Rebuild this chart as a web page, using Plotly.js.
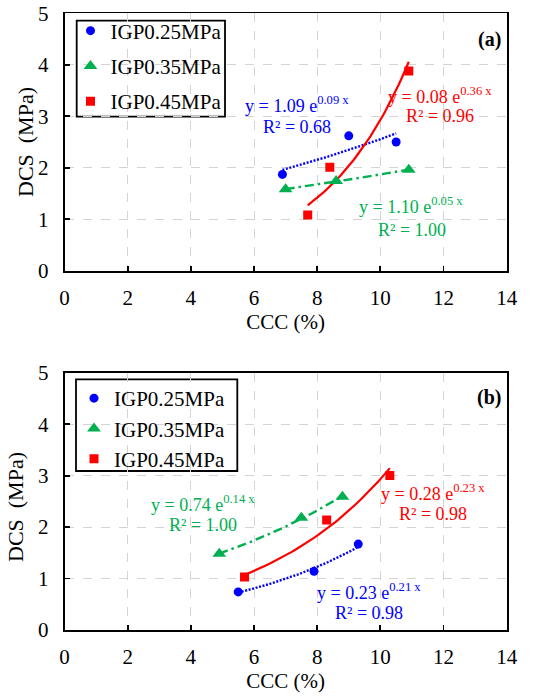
<!DOCTYPE html>
<html>
<head>
<meta charset="utf-8">
<script src="https://cdn.plot.ly/plotly-3.0.1.min.js"></script>
<style>html,body{margin:0;padding:0;background:#fff}#chart{width:550px;height:700px}</style>
</head>
<body>
<div id="chart"></div>
<script>
// ---- Data ----
const seriesNames = ["IGP0.25MPa", "IGP0.35MPa", "IGP0.45MPa"];

// Panel (a)
const xA_025 = [6.9, 9.0, 10.5];
const yA_025 = [1.87, 2.62, 2.50];
const xA_035 = [7.0, 8.6, 10.9];
const yA_035 = [1.58, 1.74, 1.96];
const xA_045 = [7.7, 8.4, 10.9];
const yA_045 = [1.08, 2.01, 3.88];

// Panel (b)
const xB_025 = [5.5, 7.9, 9.3];
const yB_025 = [0.74, 1.14, 1.67];
const xB_035 = [4.9, 7.5, 8.8];
const yB_035 = [1.48, 2.18, 2.59];
const xB_045 = [5.7, 8.3, 10.3];
const yB_045 = [1.03, 2.14, 3.00];

// Trendline labels (as printed)
const eqA = ["y = 1.09 e<sup>0.09 x</sup>", "y = 1.10 e<sup>0.05 x</sup>", "y = 0.08 e<sup>0.36 x</sup>"];
const r2A = ["R² = 0.68", "R² = 1.00", "R² = 0.96"];
const eqB = ["y = 0.23 e<sup>0.21 x</sup>", "y = 0.74 e<sup>0.14 x</sup>", "y = 0.28 e<sup>0.23 x</sup>"];
const r2B = ["R² = 0.98", "R² = 1.00", "R² = 0.98"];

const xTicks = [0, 2, 4, 6, 8, 10, 12, 14];
const yTicks = [0, 1, 2, 3, 4, 5];
const xTitle = "CCC (%)";
const yTitle = "DCS\u00a0 (MPa)";

// ---- Styles ----
const colors = ["#0000FF", "#00B050", "#FF0000"];
const symbols = ["circle", "triangle-up", "square"];
const sizes = [9, 12, 9];
const dashes = ["2px,1.6px", "9px,4px,2.5px,4px", "solid"];
const widths = [2.4, 2.4, 2.2];
const FONT = "Liberation Serif";

// Exponential least-squares fit (as a spreadsheet trendline does) from the data points
function expFitCurve(xs, ys, n) {
  const ly = ys.map(Math.log);
  const m = xs.length;
  const mx = xs.reduce((a, b) => a + b, 0) / m;
  const my = ly.reduce((a, b) => a + b, 0) / m;
  let sxy = 0, sxx = 0;
  for (let i = 0; i < m; i++) { sxy += (xs[i] - mx) * (ly[i] - my); sxx += (xs[i] - mx) ** 2; }
  const b = sxy / sxx, a = Math.exp(my - b * mx);
  const x0 = Math.min(...xs), x1 = Math.max(...xs);
  const cx = [], cy = [];
  for (let i = 0; i <= n; i++) { const x = x0 + (x1 - x0) * i / n; cx.push(x); cy.push(a * Math.exp(b * x)); }
  return { x: cx, y: cy };
}

function panelTraces(xsList, ysList, xa, ya, legendId) {
  const t = [];
  xsList.forEach((xs, i) => {
    const f = expFitCurve(xs, ysList[i], 40);
    t.push({ x: f.x, y: f.y, xaxis: xa, yaxis: ya, mode: "lines", type: "scatter",
      line: { color: colors[i], width: widths[i], dash: dashes[i] },
      showlegend: false, hoverinfo: "skip" });
  });
  xsList.forEach((xs, i) => {
    t.push({ x: xs, y: ysList[i], xaxis: xa, yaxis: ya, mode: "markers", type: "scatter",
      name: seriesNames[i], legend: legendId, legendgroup: legendId + i,
      marker: { color: colors[i], symbol: symbols[i], size: sizes[i] } });
  });
  return t;
}

const data = [].concat(
  panelTraces([xA_025, xA_035, xA_045], [yA_025, yA_035, yA_045], "x", "y", "legend"),
  panelTraces([xB_025, xB_035, xB_045], [yB_025, yB_035, yB_045], "x2", "y2", "legend2")
);

const W = 550, H = 700;
const px = v => v / W, py = v => 1 - v / H;
const xDom = [px(64.5), px(506.7)];
const yDomA = [py(270.7), py(13.3)];
const yDomB = [py(630), py(372.7)];

function xAxis(anchor, dom) {
  return { domain: dom, anchor: anchor, range: [0, 14], tickvals: xTicks, ticktext: xTicks.map(String),
    showline: true, mirror: true, linecolor: "#000", linewidth: 1.8,
    ticks: "inside", ticklen: 5, tickwidth: 1.8, tickcolor: "#000",
    showgrid: true, gridcolor: "#d4d4d4", griddash: "dash", gridwidth: 1, zeroline: false,
    tickfont: { family: FONT, size: 21, color: "#000" }, ticklabelstandoff: 7,
    title: { text: xTitle, font: { family: FONT, size: 21, color: "#000" }, standoff: 4 },
    automargin: false, fixedrange: true };
}
function yAxis(anchor, dom) {
  return { domain: dom, anchor: anchor, range: [0, 5], tickvals: yTicks, ticktext: yTicks.map(String),
    showline: true, mirror: true, linecolor: "#000", linewidth: 1.8,
    ticks: "inside", ticklen: 5, tickwidth: 1.8, tickcolor: "#000",
    showgrid: true, gridcolor: "#d4d4d4", griddash: "dash", gridwidth: 1, zeroline: false,
    tickfont: { family: FONT, size: 21, color: "#000" }, ticklabelstandoff: 10,
    automargin: false, fixedrange: true };
}

function ann(x, y, text, color, xr, yr, bold) {
  return { x: x, y: y, xref: xr, yref: yr, text: bold ? "<b>" + text + "</b>" : text, showarrow: false,
    xanchor: "center", yanchor: "middle",
    font: { family: FONT, size: bold ? 20 : 18, color: color } };
}

const annotations = [
  ann(7.35, 3.22, eqA[0], colors[0], "x", "y"),
  ann(7.35, 2.80, r2A[0], colors[0], "x", "y"),
  ann(10.97, 1.26, eqA[1], colors[1], "x", "y"),
  ann(10.99, 0.79, r2A[1], colors[1], "x", "y"),
  ann(11.89, 3.41, eqA[2], colors[2], "x", "y"),
  ann(11.89, 3.00, r2A[2], colors[2], "x", "y"),
  ann(13.44, 4.50, "(a)", "#000", "x", "y", true),
  ann(9.64, 0.74, eqB[0], colors[0], "x2", "y2"),
  ann(9.64, 0.33, r2B[0], colors[0], "x2", "y2"),
  ann(4.38, 2.45, eqB[1], colors[1], "x2", "y2"),
  ann(4.38, 2.04, r2B[1], colors[1], "x2", "y2"),
  ann(11.66, 2.67, eqB[2], colors[2], "x2", "y2"),
  ann(11.66, 2.25, r2B[2], colors[2], "x2", "y2"),
  ann(13.44, 4.51, "(b)", "#000", "x2", "y2", true),
  // y-axis titles
  { x: px(25), y: py(142), xref: "paper", yref: "paper", text: yTitle, textangle: -90, showarrow: false,
    xanchor: "center", yanchor: "middle", font: { family: FONT, size: 22, color: "#000" } },
  { x: px(15), y: py(507), xref: "paper", yref: "paper", text: yTitle, textangle: -90, showarrow: false,
    xanchor: "center", yanchor: "middle", font: { family: FONT, size: 22, color: "#000" } }
];

// Legend frames
const shapes = [
  { type: "rect", xref: "paper", yref: "paper", x0: px(76.7), x1: px(225), y0: py(116.7), y1: py(20.7),
    line: { color: "#000", width: 1.8 }, fillcolor: "#fff", layer: "between" },
  { type: "rect", xref: "paper", yref: "paper", x0: px(76), x1: px(237.3), y0: py(471), y1: py(379.3),
    line: { color: "#000", width: 1.8 }, fillcolor: "#fff", layer: "between" }
];

function legendBox(x, y, gap) {
  return { x: x, y: y, xref: "paper", yref: "paper", xanchor: "left", yanchor: "top",
    bgcolor: "rgba(0,0,0,0)", borderwidth: 0, tracegroupgap: gap,
    font: { family: FONT, size: 21, color: "#000" }, itemclick: false, itemdoubleclick: false };
}

const layout = {
  width: W, height: H, margin: { l: 0, r: 0, t: 0, b: 0 },
  paper_bgcolor: "#fff", plot_bgcolor: "#fff",
  font: { family: FONT, color: "#000" },
  xaxis: xAxis("y", xDom), yaxis: yAxis("x", yDomA),
  xaxis2: xAxis("y2", xDom), yaxis2: yAxis("x2", yDomB),
  legend: legendBox(px(70.5), py(10.5), 5),
  legend2: legendBox(px(74), py(378), 0),
  shapes: shapes,
  annotations: annotations,
  showlegend: true
};

Plotly.newPlot("chart", data, layout, { displayModeBar: false, staticPlot: true });
</script>
</body>
</html>
